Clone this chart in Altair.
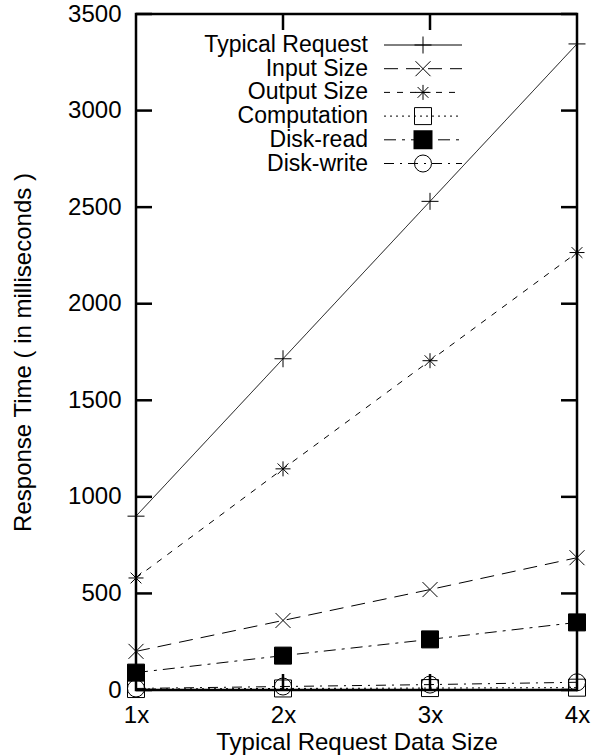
import altair as alt
import pandas as pd

# ---------------- data ----------------
sizes = ["1x", "2x", "3x", "4x"]
series_names = ["Typical Request", "Input Size", "Output Size",
                "Computation", "Disk-read", "Disk-write"]
typical_request = [900, 1715, 2530, 3345]
input_size = [200, 360, 520, 685]
output_size = [580, 1145, 1705, 2265]
computation = [5, 8, 10, 12]
disk_read = [90, 178, 262, 350]
disk_write = [8, 18, 28, 40]
y_ticks = [0, 500, 1000, 1500, 2000, 2500, 3000, 3500]
inner_x_ticks = ["2x", "3x"]

values = {
    "Typical Request": typical_request,
    "Input Size": input_size,
    "Output Size": output_size,
    "Computation": computation,
    "Disk-read": disk_read,
    "Disk-write": disk_write,
}

# ---------------- style ----------------
LEFT, TOP = 136, 14
W, H = 441, 676
FONT = "Liberation Sans"
FS = 24
LFS = 23
TICK = 16
FRAME = 2.5

PLUS = "M-1,0L1,0M0,-1L0,1"
CROSS = "M-1,-1L1,1M-1,1L1,-1"
STAR = "M-1,0L1,0M0,-1L0,1M-0.72,-0.72L0.72,0.72M-0.72,0.72L0.72,-0.72"

styles = {
    "Typical Request": dict(dash=[1, 0], shape=PLUS, filled=False, size=289),
    "Input Size": dict(dash=[14, 8], shape=CROSS, filled=False, size=225),
    "Output Size": dict(dash=[6, 7], shape=STAR, filled=False, size=225),
    "Computation": dict(dash=[2, 4], shape="square", filled=False, size=289),
    "Disk-read": dict(dash=[12, 6, 3, 6], shape="square", filled=True, size=289),
    "Disk-write": dict(dash=[10, 6, 2, 6], shape="circle", filled=False, size=289),
}

x_scale = alt.Scale(type="point", domain=sizes, padding=0)
y_scale = alt.Scale(domain=[0, 3500], nice=False, zero=False)

x_axis = alt.Axis(title="Typical Request Data Size", labelAngle=0,
                  ticks=False, tickSize=0, domain=False, grid=False,
                  labelPadding=13, labelFlush=False, labelBaseline="top",
                  labelFont=FONT, labelFontSize=FS, labelColor="black",
                  titleFont=FONT, titleFontSize=FS, titleFontWeight="normal",
                  titleColor="black", titleY=52, titleBaseline="middle")
y_axis = alt.Axis(title="Response Time ( in milliseconds )", values=y_ticks, format="d",
                  ticks=False, tickSize=0, domain=False, grid=False,
                  labelPadding=15, labelFlush=False, labelBound=False,
                  labelFont=FONT, labelFontSize=FS, labelColor="black",
                  titleFont=FONT, titleFontSize=FS, titleFontWeight="normal",
                  titleColor="black", titleX=-(LEFT - 23), titleY=H / 2,
                  titleBaseline="middle", titleAngle=-90)

X = alt.X("size:O", scale=x_scale, sort=sizes, axis=x_axis)
Y = alt.Y("value:Q", scale=y_scale, axis=y_axis)

layers = []

# inward ticks (gnuplot style, mirrored)
yt_df = pd.DataFrame({"value": y_ticks})
layers.append(alt.Chart(yt_df).mark_rule(color="black", strokeWidth=FRAME).encode(
    y=Y, x=alt.value(0), x2=alt.value(TICK)))
layers.append(alt.Chart(yt_df).mark_rule(color="black", strokeWidth=FRAME).encode(
    y=Y, x=alt.value(W - TICK), x2=alt.value(W)))
xt_df = pd.DataFrame({"size": inner_x_ticks})
layers.append(alt.Chart(xt_df).mark_rule(color="black", strokeWidth=FRAME).encode(
    x=X, y=alt.value(H - TICK), y2=alt.value(H)))
layers.append(alt.Chart(xt_df).mark_rule(color="black", strokeWidth=FRAME).encode(
    x=X, y=alt.value(0), y2=alt.value(TICK)))

# series
for name in series_names:
    st = styles[name]
    df = pd.DataFrame({"size": sizes, "value": values[name]})
    base = alt.Chart(df).encode(x=X, y=Y)
    layers.append(base.mark_line(color="black", strokeWidth=1, strokeDash=st["dash"]))
    if st["filled"]:
        layers.append(base.mark_point(shape=st["shape"], size=st["size"], filled=True,
                                      fill="black", stroke="black", strokeWidth=1, opacity=1))
    else:
        layers.append(base.mark_point(shape=st["shape"], size=st["size"], filled=False,
                                      stroke="black", strokeWidth=1, opacity=1))

# manual legend (gnuplot style: label, then sample)
one = alt.Data(values=[{"k": 1}])
TX, S0, S1, SM = 368 - LEFT, 384 - LEFT, 462 - LEFT, 423 - LEFT
for i, name in enumerate(series_names):
    st = styles[name]
    yy = 31 + 23.7 * i
    layers.append(alt.Chart(one).mark_text(align="right", baseline="middle", font=FONT,
                                           fontSize=LFS, color="black").encode(
        x=alt.value(TX), y=alt.value(yy), text=alt.value(name)))
    layers.append(alt.Chart(one).mark_rule(color="black", strokeWidth=1,
                                           strokeDash=st["dash"]).encode(
        x=alt.value(S0), x2=alt.value(S1), y=alt.value(yy)))
    if st["filled"]:
        layers.append(alt.Chart(one).mark_point(shape=st["shape"], size=st["size"], filled=True,
                                                fill="black", stroke="black", opacity=1).encode(
            x=alt.value(SM), y=alt.value(yy)))
    else:
        layers.append(alt.Chart(one).mark_point(shape=st["shape"], size=st["size"], filled=False,
                                                stroke="black", strokeWidth=1, opacity=1).encode(
            x=alt.value(SM), y=alt.value(yy)))

chart = alt.layer(*layers).properties(
    width=W, height=H,
    padding={"left": LEFT, "top": TOP, "right": 595 - LEFT - W, "bottom": 756 - TOP - H},
    autosize=alt.AutoSizeParams(type="none"),
    background="white",
).configure_view(stroke="black", strokeWidth=FRAME)

chart.save("out.html", embed_options={"renderer": "svg", "actions": False})
